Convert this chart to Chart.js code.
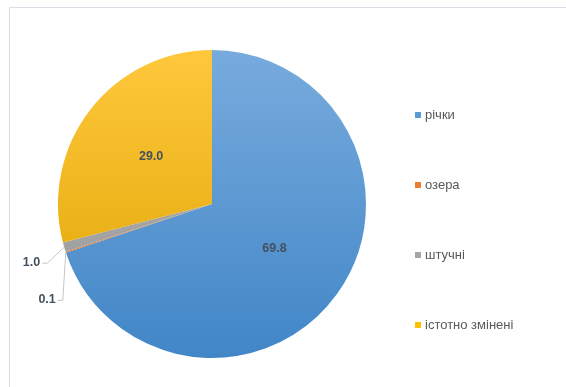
<!DOCTYPE html>
<html lang="uk">
<head>
<meta charset="utf-8">
<title>Водні об'єкти</title>
<script src="https://cdn.jsdelivr.net/npm/chart.js@4.4.1/dist/chart.umd.min.js"></script>
<style>
  html, body { margin: 0; padding: 0; background: #fff; overflow: hidden; }
  #wrap { position: relative; width: 566px; height: 387px; }
  #frame {
    position: absolute; left: 9px; top: 7px; width: 600px; height: 420px;
    border: 1px solid #dcdde6; box-sizing: border-box;
  }
  #chart { position: absolute; left: 0; top: 0; }
</style>
</head>
<body>
<div id="wrap">
  <div id="frame"></div>
  <canvas id="chart" width="566" height="387"></canvas>
</div>
<script>
// частки водних об'єктів, %
const categories = ['річки', 'озера', 'штучні', 'істотно змінені'];
const shares = [69.8, 0.1, 1.0, 29.0];
const valueLabels = ['69.8', '0.1', '1.0', '29.0'];

// кольори: верх / низ градієнта, колір маркера легенди
const palette = [
  { top: '#78abdd', bottom: '#4186c7', mark: '#5b9bd5' },
  { top: '#f08a45', bottom: '#e06f22', mark: '#ed7d31' },
  { top: '#b2b2b2', bottom: '#999999', mark: '#a5a5a5' },
  { top: '#ffc83c', bottom: '#dda300', mark: '#ffc000' }
];

const FONT = '"Liberation Sans", Arial, sans-serif';

function sliceFill(ctx) {
  const chart = ctx.chart;
  const area = chart.chartArea;
  const p = palette[ctx.dataIndex];
  if (!area) return p.mark;
  const g = chart.ctx.createLinearGradient(0, area.top, 0, area.bottom);
  g.addColorStop(0, p.top);
  g.addColorStop(1, p.bottom);
  return g;
}

// підписи значень: всередині великих секторів, зовні з виносками для малих
const valueLabelPlugin = {
  id: 'valueLabels',
  afterDatasetsDraw(chart, args, opts) {
    const ctx = chart.ctx;
    const arcs = chart.getDatasetMeta(0).data;
    ctx.save();
    ctx.font = 'bold 12.5px ' + FONT;
    ctx.fillStyle = '#44505f';
    arcs.forEach((arc, i) => {
      const lead = opts.leaders[i];
      if (!lead) {
        const pos = arc.tooltipPosition();
        ctx.textAlign = 'center';
        ctx.textBaseline = 'middle';
        ctx.fillText(valueLabels[i], pos.x, pos.y);
        return;
      }
      const mid = (arc.startAngle + arc.endAngle) / 2;
      const ax = arc.x + Math.cos(mid) * arc.outerRadius;
      const ay = arc.y + Math.sin(mid) * arc.outerRadius;
      const ex = ax + lead.dx;
      const ey = ay + lead.dy;
      ctx.strokeStyle = '#c4c6cc';
      ctx.lineWidth = 1;
      ctx.beginPath();
      ctx.moveTo(ax, ay);
      ctx.lineTo(ex, ey);
      ctx.lineTo(ex - 5, ey);
      ctx.stroke();
      ctx.textAlign = 'right';
      ctx.textBaseline = 'middle';
      ctx.fillText(valueLabels[i], ex - 7, ey - 1);
    });
    ctx.restore();
  }
};

// легенда праворуч, рівномірно по висоті
const sideLegendPlugin = {
  id: 'sideLegend',
  afterDraw(chart, args, opts) {
    const ctx = chart.ctx;
    ctx.save();
    ctx.font = '13px ' + FONT;
    ctx.textAlign = 'left';
    ctx.textBaseline = 'middle';
    categories.forEach((name, i) => {
      const y = opts.top + i * opts.step;
      ctx.fillStyle = palette[i].mark;
      ctx.fillRect(opts.x, y - 3, 6, 6);
      ctx.fillStyle = '#595959';
      ctx.fillText(name, opts.x + 10, y);
    });
    ctx.restore();
  }
};

new Chart(document.getElementById('chart'), {
  type: 'pie',
  data: {
    labels: categories,
    datasets: [{
      data: shares,
      backgroundColor: sliceFill,
      borderWidth: 0
    }]
  },
  options: {
    responsive: false,
    animation: false,
    layout: { padding: { left: 58, top: 50, right: 200, bottom: 29 } },
    plugins: {
      legend: { display: false },
      tooltip: { enabled: false },
      valueLabels: {
        leaders: [null, { dx: -3, dy: 48 }, { dx: -17, dy: 16 }, null]
      },
      sideLegend: { x: 415, top: 115, step: 70 }
    }
  },
  plugins: [valueLabelPlugin, sideLegendPlugin]
});
</script>
</body>
</html>
